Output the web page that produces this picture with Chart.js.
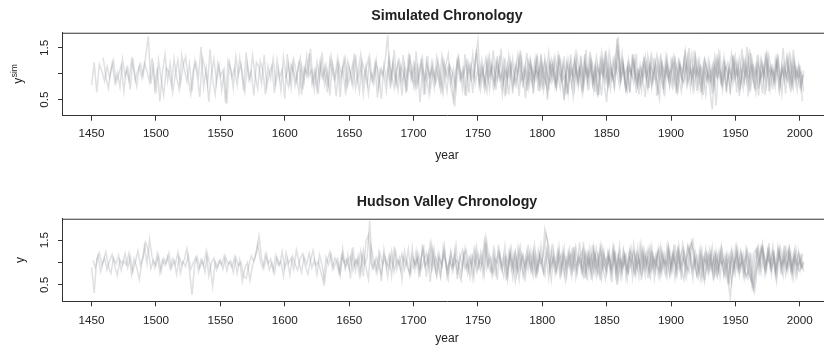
<!DOCTYPE html>
<html>
<head>
<meta charset="utf-8">
<script src="https://cdn.jsdelivr.net/npm/chart.js@4.4.0/dist/chart.umd.min.js"></script>
<style>
  html, body { margin: 0; padding: 0; background: #fff; overflow: hidden; }
  .panel { position: absolute; left: 0; width: 832px; height: 173px; }
  #p1 { top: 0; }
  #p2 { top: 173px; }
</style>
</head>
<body>
<div class="panel" id="p1"><canvas id="sim"></canvas></div>
<div class="panel" id="p2"><canvas id="hud"></canvas></div>
<script>
// years between two stored values of every series
const STEP = 2;

// axis ticks
const xTicks = [1450, 1500, 1550, 1600, 1650, 1700, 1750, 1800, 1850, 1900, 1950, 2000];
const yTicks = [0.5, 1, 1.5];
const yTickLabels = ['0.5', '', '1.5'];

// Simulated chronology: first year of each series, then values
const simStart = [1450, 1459, 1601, 1680, 1751, 1790];
const simA = [
  0.78,1.22,0.64,1.18,1.05,0.86,1.14,0.92,1.21,0.83, 1.02,0.74,1.28,0.95,1.12,0.69,1.31,0.88,1.07,1.19,
  0.96,1.34,1.72,0.81,1.15,0.62,1.26,0.9,0.58,1.11, 1.03,0.77,1.29,0.93,0.7,1.36,1.08,0.85,1.19,0.66,
  1.24,0.97,0.55,1.31,1.12,0.79,1.47,0.88,0.6,1.2, 0.95,1.07,0.44,1.25,1.1,0.73,1.33,0.98,1.18,0.67,
  1.41,0.89,1.04,0.58,1.22,1.13,0.81,1.36,0.74,1.01, 1.16,0.63,1.27,0.92,1.09,0.52,1.38,0.86,1.2,0.77,
  1.05,1.3,0.69,1.14,0.95,1.48,0.8,1.07,0.61,1.23, 0.91,1.17,0.74,1.34,1.02,0.56,1.21,0.99,1.28,0.72,
  1.12,0.84,1.39,0.93,0.66,1.25,1.06,0.79,1.31,0.88, 1.19,0.54,1.08,0.96,1.27,1.74,0.71,1.15,0.83,1.24,
  0.9,1.36,0.62,1.11,1.02,0.76,1.43,0.87,1.18,0.59, 1.26,0.94,1.07,0.73,1.32,1.01,0.68,1.2,0.92,1.13,
  0.81,0.37,1.24,1.05,0.7,1.38,0.95,1.16,0.63,1.29, 1.64,0.86,1.1,0.75,1.3,0.98,1.45,0.69,1.12,0.9,
  1.22,0.6,1.35,1.04,0.82,1.17,0.57,1.28,0.97,1.4, 0.79,1.13,0.92,1.33,0.66,1.06,1.24,0.5,1.15,0.88,
  1.3,0.96,0.72,1.21,1.02,0.61,1.37,0.89,1.11,0.76, 1.25,0.93,1.46,0.68,1.08,0.84,1.32,1.0,0.58,1.19,
  0.87,1.42,1.07,0.74,1.68,0.95,1.23,0.81,1.15,0.64, 1.29,1.03,0.78,1.18,0.91,0.55,1.34,1.06,0.83,1.2,
  0.97,1.39,0.7,1.12,0.86,1.27,1.01,0.62,1.31,0.9, 1.16,0.79,1.23,0.95,1.44,0.67,1.09,0.85,1.26,1.0,
  0.73,0.31,1.14,0.92,1.36,0.8,1.05,1.21,0.6,1.33, 0.94,1.1,0.77,1.28,1.02,0.56,1.4,0.89,1.17,0.71,
  1.25,0.98,1.35,0.66,1.12,0.84,1.3,1.04,0.61,1.19, 0.92,1.42,0.79,1.15,0.68,1.08,0.47
];
const simB = [
  1.31,0.95,0.71,1.06,1.25,0.82,0.99,1.17,0.66,1.09, 0.87,1.26,1.03,0.76,1.14,0.92,1.2,1.05,0.84,1.3,
  0.72,1.12,0.47,1.01,1.37,0.86,1.19,0.64,0.98,1.27, 0.8,1.15,1.33,0.9,0.61,1.08,1.22,0.95,1.52,0.74,
  1.1,0.46,0.99,1.28,0.83,1.16,0.69,1.04,0.42,1.21, 0.93,1.12,0.78,1.3,1.0,0.65,1.19,0.88,1.35,0.97,
  0.71,1.24,1.05,0.6,1.15,0.9,1.29,0.8,1.08,0.68, 1.32,0.94,0.75,1.17,1.03,0.84,1.25,0.59,1.11,0.96,
  1.4,0.82,1.06,0.7,1.2,0.93,1.13,0.64,1.27,1.01, 0.87,1.16,0.55,1.09,1.3,0.78,0.98,1.21,0.72,1.04,
  1.37,0.85,1.14,0.62,1.01,0.89,1.26,0.74,1.1,0.97, 0.66,1.23,0.9,1.46,0.8,1.07,0.58,1.18,0.94,1.31,
  1.02,0.76,1.2,0.45,1.12,0.91,1.34,0.69,1.06,0.85, 1.25,0.97,0.63,1.15,1.38,0.82,1.09,0.7,1.28,0.93,
  1.11,0.57,1.19,0.88,1.03,1.47,0.77,1.14,0.92,0.65, 1.33,1.0,0.79,1.22,0.96,0.6,1.3,0.87,1.13,0.74,
  1.06,1.37,0.83,0.98,0.53,1.24,1.1,0.72,1.29,0.9, 1.17,0.68,1.02,1.41,0.86,1.13,0.76,1.32,0.95,0.49,
  1.21,0.89,1.08,0.71,1.36,1.0,0.62,1.18,0.93,1.27, 0.8,1.12,0.58,1.25,0.97,1.44,0.75,1.06,0.88,1.33,
  1.71,0.91,1.15,0.69,1.28,1.03,0.82,1.39,0.6,1.09, 0.94,1.22,0.73,1.35,1.05,0.87,0.52,1.2,0.99,1.31,
  0.77,1.1,1.27,0.63,1.16,0.92,1.45,0.84,1.04,0.7, 1.34,0.96,1.13,0.59,1.21,0.88,1.07,0.74,1.3,1.0,
  0.81,1.26,0.65,1.09,1.38,0.9,1.17,0.57,1.02,1.24, 0.86,1.47,0.93,0.72,1.19,1.05,0.62,1.32,0.97,1.14,
  0.7,1.28,1.01,0.83,1.5,0.9,1.12,0.64,1.23,0.95, 1.18,0.74,1.06
];
const simC = [
  0.92,1.18,0.73,1.27,1.01,0.64,1.15,0.86,1.34,0.97, 1.08,0.7,1.22,0.9,1.41,0.79,1.05,0.58,1.19,0.95,
  1.3,0.84,1.1,0.67,1.24,1.02,0.76,1.36,0.88,1.14, 0.61,1.07,1.29,0.93,0.8,1.2,0.99,0.52,1.16,0.87,
  1.33,0.96,0.72,1.12,1.25,0.83,1.04,0.66,1.38,0.91, 1.17,0.78,1.06,1.3,0.6,1.13,0.94,1.22,0.81,1.03,
  0.69,1.27,0.98,1.15,0.74,0.48,1.09,1.32,0.87,1.0, 1.21,0.63,1.14,0.9,1.4,0.82,1.07,0.71,1.26,0.95,
  1.11,0.77,1.34,0.89,1.02,0.56,1.18,0.93,1.29,0.8, 1.05,1.45,0.73,1.16,0.86,1.24,0.62,1.09,0.97,1.31,
  0.84,1.13,0.68,1.27,1.01,0.79,1.36,0.92,0.58,1.2, 1.03,0.75,1.3,0.95,1.12,0.66,1.23,0.88,1.42,0.81,
  1.15,0.54,1.08,0.97,1.33,0.77,1.19,0.9,1.05,1.55, 0.86,1.2,0.7,1.11,0.99,1.37,0.63,1.04,0.83,1.28,
  0.94,1.16,0.74,1.31,0.57,1.07,1.22,0.88,1.13,0.79, 1.26,0.96,0.65,1.18,1.04,1.43,0.8,1.1,0.91,1.3,
  0.72,1.14,0.98,0.6,1.25,0.87,1.09,0.39,1.2,0.93, 1.32,0.78,1.06,0.89,1.17,0.64,1.28,1.0,0.82,1.52,
  0.95,1.13,0.7,1.36,0.86,1.05,0.59,1.22,0.99,1.15, 0.76,1.3,0.92,1.08,0.62,1.24,0.87,1.46,0.81,1.11,
  0.7,0.98
];
const simD = [
  1.1,0.83,1.24,0.95,0.68,1.15,1.02,0.77,1.32,0.9, 1.19,0.72,1.05,1.28,0.86,0.99,0.61,1.21,0.93,1.12,
  0.8,1.34,0.97,0.66,1.17,1.04,0.75,1.25,0.89,1.08, 0.58,1.2,0.94,1.37,0.82,1.11,0.69,1.03,1.29,0.87,
  1.14,0.73,1.22,0.96,1.48,0.84,1.07,0.6,1.18,1.0, 0.79,1.3,0.92,1.1,0.67,1.26,1.01,0.85,1.39,0.74,
  1.16,0.95,0.63,1.23,1.06,0.8,1.33,0.9,1.12,0.7, 1.27,0.98,0.56,1.15,0.87,1.35,0.78,1.09,0.94,1.21,
  0.68,1.13,1.0,1.4,0.83,0.45,1.18,0.92,1.3,1.05, 0.76,1.24,0.97,1.12,0.64,1.38,0.89,1.07,0.8,1.2,
  1.02,0.71,1.29,0.93,1.15,0.6,1.22,0.86,1.34,0.96, 1.09,0.79,1.17,0.91,0.66,1.28,1.04,1.5,0.85,1.13,
  0.97,1.25,0.73,1.08,0.88,1.19,0.62,1.31,0.94,1.06, 0.81,1.15,1.02,0.69,1.36,0.9,1.21,0.77,1.1,0.95,
  1.3,0.74,1.16,1.03,0.58,1.27,0.92,1.41,0.84,1.08, 0.98,1.22,0.7,1.14,0.87,1.33,1.0,0.76,1.25,0.91,
  1.12,0.83
];
const simE = [
  0.96,1.27,0.81,1.13,0.7,1.2,1.03,0.88,1.35,0.77, 1.08,0.93,1.25,0.62,1.16,0.99,1.31,0.84,1.05,0.72,
  1.22,0.9,1.11,0.67,1.37,0.95,0.79,1.18,1.02,1.29, 0.74,1.06,0.88,1.33,0.6,1.14,0.97,1.24,0.83,1.1,
  0.92,1.38,0.76,1.05,1.2,0.65,1.16,0.94,1.3,0.85, 1.09,0.71,1.26,1.01,1.45,0.86,1.12,0.63,1.19,0.97,
  1.23,0.82,1.04,0.68,1.32,0.91,1.15,0.77,1.08,1.36, 0.89,1.1,0.56,1.21,1.0,0.75,1.28,0.93,1.17,0.8,
  1.06,1.34,0.72,1.12,0.95,1.25,0.64,1.18,0.87,1.03, 0.78,1.22,0.98,1.39,0.83,1.07,0.69,1.15,0.92,1.3,
  1.01,0.73,1.48,0.9,1.14,0.66,1.26,0.96,1.09,0.81, 1.2,0.94,1.33,0.7,1.05,0.87,1.37,0.79,1.16,1.0,
  0.85,1.27,0.74,1.11,0.93,1.04,0.66
];
const simF = [
  1.03,0.8,1.24,0.91,1.12,0.69,1.3,0.96,0.84,1.18, 0.75,1.09,1.27,0.88,1.0,0.62,1.21,0.94,1.36,0.82,
  1.11,0.7,1.17,0.97,1.28,0.85,1.04,0.59,1.22,0.93, 1.34,0.81,1.06,0.74,1.19,1.01,1.4,0.87,0.66,1.13,
  0.95,1.23,0.78,1.1,0.9,1.31,0.71,1.16,1.02,0.84, 1.25,0.97,0.68,1.14,0.88,1.07,1.33,0.79,1.2,0.92,
  0.83,1.18,1.0,1.37,0.73,1.09,0.94,0.6,1.26,1.05, 0.87,1.15,0.76,1.29,0.99,0.67,1.21,0.9,1.12,0.8,
  1.32,0.95,1.08,0.72,1.24,0.86,1.17,1.02,0.64,1.28, 0.91,1.13,0.77,1.35,1.04,0.83,1.19,0.69,1.1,0.96,
  1.3,0.8,1.16,0.92,1.04,0.75,0.98
];

// Hudson Valley chronology
const hudStart = [1450, 1451, 1641, 1700, 1771, 1830];
const hudA = [
  0.9,0.32,1.08,1.22,0.95,1.1,0.83,1.04,1.18,0.92, 0.71,1.06,0.97,1.2,0.88,1.13,0.79,1.02,1.26,0.94,
  1.1,1.45,1.28,0.86,1.05,0.93,1.16,0.8,1.09,0.98, 1.21,0.87,1.03,0.74,1.14,0.95,1.07,1.31,0.82,0.28,
  0.96,1.12,0.88,1.05,0.79,1.18,0.94,0.47,1.02,0.9, 1.06,0.85,1.13,0.97,1.04,0.78,1.12,0.93,1.01,0.7,
  0.65,0.92,1.15,1.03,1.22,1.6,1.08,0.9,1.17,0.84, 1.0,0.76,1.11,0.95,1.24,0.88,1.06,0.72,1.14,0.97,
  0.83,1.09,1.2,0.91,0.74,1.05,1.27,0.94,1.02,0.8, 0.55,1.12,0.96,1.19,0.87,1.03,0.78,1.15,0.99,1.08,
  0.85,1.23,0.93,1.06,0.72,1.17,0.96,1.12,1.93,0.88, 1.04,0.79,1.21,0.95,1.09,0.68,1.14,0.9,1.26,1.0,
  0.82,1.13,0.97,1.3,0.76,1.07,0.92,1.18,0.86,1.05, 1.22,0.89,1.39,0.98,0.71,1.1,0.94,1.25,0.83,1.03,
  0.91,1.16,0.78,1.07,1.28,0.87,1.0,0.66,1.13,0.95, 1.19,0.84,1.06,1.55,0.93,1.11,0.75,1.02,1.24,0.89,
  0.69,1.14,0.96,1.31,0.81,1.08,0.62,1.18,0.92,1.04, 1.21,0.86,1.1,0.74,1.16,0.97,1.75,1.5,0.83,1.09,
  0.93,1.27,0.78,1.12,0.6,1.03,1.19,0.88,1.35,0.96, 1.08,0.72,1.22,0.9,1.15,0.82,1.31,0.99,0.64,1.17,
  0.94,1.1,0.77,1.25,0.5,1.06,0.91,1.2,0.84,1.13, 1.0,0.73,1.18,0.95,1.29,0.86,1.07,0.68,1.15,0.92,
  1.23,0.81,1.05,0.97,1.34,0.76,1.12,0.9,1.38,0.85, 0.62,1.09,1.26,1.48,0.93,1.15,0.79,1.04,0.58,0.98,
  1.14,0.87,1.21,0.74,1.06,0.95,1.17,0.66,0.2,0.9, 1.08,0.83,1.25,0.97,1.12,0.72,1.2,0.42,0.78,1.03,
  1.33,1.18,0.92,1.27,0.85,1.1,0.59,1.22,0.96,1.08, 0.88,1.3,0.79,1.14,0.93,1.05,0.86
];
const hudB = [
  1.05,0.88,1.15,0.8,1.02,1.24,0.92,0.76,1.1,0.97, 1.16,0.83,1.04,0.95,1.21,0.73,1.08,0.9,0.62,1.0,
  1.38,0.97,1.52,1.12,0.89,1.2,0.78,1.06,0.94,1.14, 0.86,1.09,0.96,1.23,0.77,1.02,0.91,1.17,0.85,1.0,
  1.13,0.8,1.07,0.93,1.25,0.71,0.99,1.1,0.84,1.04, 0.95,1.15,0.82,1.01,0.9,1.12,0.76,1.06,0.58,0.87,
  1.0,0.6,0.93,1.14,1.41,1.05,0.86,1.19,0.97,1.08, 0.81,1.16,0.94,1.03,0.7,1.22,0.99,1.1,0.85,1.28,
  1.02,0.78,1.13,0.96,1.21,0.88,1.06,0.73,1.17,0.94, 0.57,1.05,1.24,0.87,1.11,0.99,0.75,1.2,0.9,1.03,
  1.14,0.82,1.07,0.95,1.26,0.69,1.46,1.62,1.0,0.86, 1.11,0.93,0.74,1.18,1.02,0.89,1.25,0.8,1.06,0.96,
  1.2,0.84,1.03,0.71,1.15,0.97,1.09,0.83,1.28,0.92, 1.01,1.43,0.88,1.12,0.95,0.67,1.17,1.04,0.79,1.22,
  0.9,1.06,0.98,0.73,1.19,0.86,1.12,0.94,1.3,0.81, 1.04,0.95,1.47,0.88,1.16,0.7,1.09,0.99,1.23,0.85,
  1.07,0.61,1.14,0.92,1.25,0.8,1.01,1.18,0.87,1.1, 0.94,1.28,0.76,1.06,0.97,1.2,1.62,1.35,0.9,1.12,
  0.82,1.05,1.19,0.73,1.09,0.91,1.26,0.86,1.02,1.14, 0.79,1.22,0.95,1.08,0.68,1.16,0.93,1.3,0.87,1.04,
  1.12,0.83,0.98,1.2,0.64,1.07,0.92,1.17,0.81,1.01, 1.24,0.9,1.05,0.76,1.15,0.97,1.33,0.85,1.09,0.94,
  0.8,1.18,0.93,1.06,0.71,1.21,1.0,1.29,0.88,1.11, 0.96,1.36,1.18,0.84,1.05,0.91,0.63,1.13,0.99,1.2,
  0.86,1.1,0.73,1.23,0.97,1.06,0.82,1.15,0.55,0.95, 1.17,0.9,1.02,0.77,1.29,0.98,0.6,0.35,0.93,1.12,
  1.35,0.88,1.1,0.97,1.24,0.81,1.06,1.32,0.92,1.15, 1.27,0.84,1.08,0.96,1.2,0.9,1.03
];
const hudC = [
  1.12,0.72,1.3,0.86,1.18,0.64,1.34,0.82,1.15,0.74, 1.27,0.9,0.63,1.38,1.05,0.78,1.22,0.58,1.29,0.88,
  1.16,0.7,1.36,0.85,1.1,0.62,1.25,0.93,0.76,1.33, 0.84,1.2,0.68,1.41,0.9,1.14,0.57,1.28,0.83,1.19,
  0.73,1.35,0.96,0.64,1.24,0.87,1.39,0.79,0.6,1.17, 1.28,0.81,1.12,0.69,1.33,0.92,1.21,0.75,1.44,0.97,
  0.8,1.26,0.62,1.15,0.88,1.37,0.73,1.22,0.95,0.58, 1.3,0.86,1.13,0.7,1.4,0.83,1.19,0.65,1.27,0.94,
  0.77,1.32,1.03,0.61,1.23,0.87,1.36,0.79,1.16,0.9, 1.29,0.71,1.18,0.84,1.45,0.76,1.1,0.6,1.31,0.92,
  1.2,0.78,1.37,0.88,0.63,1.24,0.95,1.33,0.72,1.13, 0.83,1.27,0.67,1.18,0.9,1.4,0.77,1.12,0.61,1.3,
  0.97,0.79,1.35,0.86,1.2,0.7,1.26,0.91,1.38,0.78, 1.14,0.66,1.25,0.85,1.42,1.05,0.8,1.33,1.5,0.84,
  0.65,1.19,0.9,1.3,0.75,1.15,0.6,1.24,0.85,1.32, 0.74,1.17,0.52,1.26,0.88,1.35,0.8,1.12,0.67,1.23,
  0.9,0.45,0.82,1.3,0.97,1.41,0.78,1.25,0.92,1.36, 0.8,1.28,1.02,0.7,1.37,0.86,1.2,0.68,1.3,0.88,
  1.15,0.8
];
const hudD = [
  0.86,1.25,0.74,1.14,1.34,0.68,1.2,0.85,1.29,0.73, 1.18,0.9,1.38,0.7,1.1,0.8,1.26,0.63,1.16,0.88,
  1.31,0.77,1.12,0.66,1.27,0.85,1.21,0.72,1.36,0.92, 0.79,1.27,0.69,1.4,0.89,1.15,0.6,1.23,0.84,1.18,
  0.74,1.32,0.9,0.65,1.25,0.96,0.77,1.37,0.83,1.2, 0.93,0.71,1.29,0.86,1.42,0.76,1.17,0.63,1.26,0.88,
  1.23,0.8,1.34,0.68,1.15,0.85,1.46,0.78,1.19,0.62, 1.28,0.89,0.73,1.33,0.94,0.8,1.24,0.56,1.18,0.86,
  1.37,0.72,1.14,0.83,1.27,0.67,1.21,0.88,1.4,0.79, 1.17,0.65,1.3,0.85,1.15,0.74,1.35,0.9,0.69,1.24,
  0.87,1.31,0.76,1.2,0.62,1.27,0.93,0.8,1.39,1.22, 0.7,0.88,1.26,0.6,1.18,0.83,1.33,0.75,1.14,0.67,
  1.24,0.84,0.58,1.16,0.78,1.32,0.87,1.21,0.71,1.29, 0.85,0.63,0.42,0.94,1.34,0.8,1.25,0.9,1.43,0.76,
  1.2,0.86,1.31,0.73,1.39,0.88,1.18,0.68,1.27,0.9, 0.8,1.2
];
const hudE = [
  1.16,0.77,1.28,0.68,1.2,0.87,1.33,0.74,1.12,0.83, 1.25,0.71,1.18,0.84,1.37,0.8,1.14,0.66,1.27,0.89,
  0.76,1.22,0.85,1.32,0.7,1.17,0.81,1.36,0.75,1.11, 1.26,0.65,1.19,0.83,1.39,0.78,1.14,0.6,1.29,0.86,
  1.2,0.73,1.33,0.82,1.16,0.68,1.24,0.88,0.75,1.3, 0.81,1.18,0.69,1.35,0.86,1.21,0.74,1.27,0.64,1.15,
  1.31,0.79,1.17,0.71,1.25,0.85,1.4,0.77,1.12,1.28, 0.76,1.37,1.14,0.65,1.22,0.83,1.3,0.72,1.18,0.84,
  1.25,0.69,1.15,0.8,1.33,0.75,1.1,0.61,1.2,0.79, 1.28,0.73,1.19,0.84,0.66,1.23,0.58,1.12,1.32,0.81,
  1.38,0.78,1.26,0.86,1.19,0.72,1.34,0.83,1.23,0.75, 1.29,0.82,1.18,0.69,1.25,0.86,1.0
];
const hudF = [
  0.87,1.26,0.75,1.19,0.81,1.34,0.72,1.15,0.84,1.24, 0.77,1.18,0.86,1.3,0.69,1.22,0.82,1.13,0.64,1.27,
  1.14,0.76,1.33,0.84,1.2,0.71,1.25,0.85,1.16,0.79, 1.29,0.74,1.17,0.82,1.35,0.88,1.21,0.75,1.26,0.86,
  1.18,0.7,1.31,0.81,1.13,0.77,1.23,0.65,1.15,0.84, 1.28,0.79,1.19,0.73,1.24,0.87,0.68,1.16,0.82,1.22,
  0.76,1.25,0.85,1.17,0.69,0.81,0.6,1.2,1.3,0.83, 1.32,0.91,0.78,1.27,0.86,1.18,0.72,1.24,0.88,1.19,
  0.81,1.3,0.84,1.21,0.75,1.15,0.87
];

const FONT = '"Liberation Sans", Arial, Helvetica, sans-serif';
const INK = '#222';
const AXIS = '#333';
const LINE = 'rgba(140,142,152,0.28)';

// top edge of the plot box
const boxTop = {
  id: 'boxTop',
  afterDraw(chart) {
    const a = chart.chartArea, ctx = chart.ctx;
    ctx.save();
    ctx.strokeStyle = AXIS;
    ctx.lineWidth = 1;
    ctx.beginPath();
    ctx.moveTo(a.left, a.top + 0.5);
    ctx.lineTo(a.right, a.top + 0.5);
    ctx.stroke();
    ctx.restore();
  }
};

// y axis title with optional superscript
const yLabel = {
  id: 'yLabel',
  afterDraw(chart, args, opts) {
    const {ctx, chartArea} = chart;
    const big = '12px ' + FONT, small = '8.5px ' + FONT;
    ctx.save();
    ctx.fillStyle = INK;
    ctx.translate(opts.x, (chartArea.top + chartArea.bottom) / 2);
    ctx.rotate(-Math.PI / 2);
    ctx.textBaseline = 'alphabetic';
    ctx.textAlign = 'left';
    ctx.font = big;
    const w1 = ctx.measureText(opts.text).width;
    ctx.font = small;
    const w2 = opts.sup ? ctx.measureText(opts.sup).width : 0;
    const x0 = -(w1 + w2) / 2;
    ctx.font = big;
    ctx.fillText(opts.text, x0, 0);
    if (opts.sup) {
      ctx.font = small;
      ctx.fillText(opts.sup, x0 + w1 + 0.5, -5.5);
    }
    ctx.restore();
  }
};

function makePanel(id, p) {
  const datasets = p.series.map((vals, k) => ({
    data: vals.map((v, i) => ({ x: p.starts[k] + STEP * i, y: v })),
    borderColor: LINE,
    borderWidth: 1.5,
    pointRadius: 0,
    tension: 0,
    fill: false
  }));
  return new Chart(document.getElementById(id), {
    type: 'line',
    data: { datasets },
    plugins: [boxTop, yLabel],
    options: {
      responsive: true,
      maintainAspectRatio: false,
      animation: false,
      events: [],
      layout: { padding: 0, autoPadding: false },
      plugins: {
        legend: { display: false },
        tooltip: { enabled: false },
        title: {
          display: true,
          text: p.title,
          fullSize: false,
          color: INK,
          font: { family: FONT, size: 14.2, weight: 'bold' },
          padding: { top: p.titleTop, bottom: p.titleBottom }
        },
        yLabel: { x: p.yLabelX, text: p.yText, sup: p.ySup }
      },
      scales: {
        x: {
          type: 'linear',
          min: 1427,
          max: 2025,
          afterBuildTicks: s => { s.ticks = xTicks.map(v => ({ value: v })); },
          afterFit: s => { s.height = p.xAxisH; },
          ticks: { autoSkip: false, maxRotation: 0, color: INK, padding: p.xTickPad,
                   font: { family: FONT, size: 11.7 }, callback: v => String(v) },
          grid: { drawOnChartArea: false, drawTicks: true, tickLength: 5, color: AXIS },
          border: { display: true, color: AXIS, width: 1 },
          title: { display: true, text: 'year', color: INK, font: { family: FONT, size: 12 },
                   padding: { top: 0, bottom: p.yearPad } }
        },
        y: {
          min: p.yMin,
          max: p.yMax,
          afterBuildTicks: s => { s.ticks = yTicks.map(v => ({ value: v })); },
          afterFit: s => { s.width = 62; },
          ticks: { minRotation: 90, maxRotation: 90, crossAlign: 'center', color: INK, padding: 5,
                   font: { family: FONT, size: 11.7 }, callback: (v, i) => yTickLabels[i] },
          grid: { drawOnChartArea: false, drawTicks: true, tickLength: 4, color: AXIS },
          border: { display: true, color: AXIS, width: 1 }
        }
      }
    }
  });
}

makePanel('sim', {
  title: 'Simulated Chronology',
  series: [simA, simB, simC, simD, simE, simF],
  starts: simStart,
  yMin: 0.19, yMax: 1.79,
  titleTop: 8, titleBottom: 7.7,
  xAxisH: 57.3, xTickPad: 6, yearPad: 10.3,
  yLabelX: 22, yText: 'y', ySup: 'sim'
});

makePanel('hud', {
  title: 'Hudson Valley Chronology',
  series: [hudA, hudB, hudC, hudD, hudE, hudF],
  starts: hudStart,
  yMin: 0.135, yMax: 1.98,
  titleTop: 21, titleBottom: 7.7,
  xAxisH: 44.7, xTickPad: 7.2, yearPad: 0,
  yLabelX: 24, yText: 'y', ySup: ''
});
</script>
</body>
</html>
